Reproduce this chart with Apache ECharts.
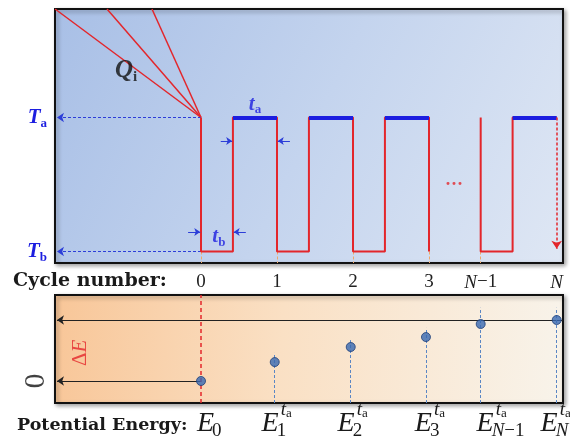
<!DOCTYPE html>
<html>
<head>
<meta charset="utf-8">
<script src="https://cdn.jsdelivr.net/npm/echarts@6/dist/echarts.min.js"></script>
<style>
html,body{margin:0;padding:0;background:#fff;}
#c{width:570px;height:443px;}
</style>
</head>
<body>
<div id="c"></div>
<script>
// ---- data ----
const cycleTicks = [0, 1, 2, 3, 3.68, 4.68];
const cycleLabels = ['0', '1', '2', '3', 'N−1', 'N'];
// temperature levels: Tb = 0, Ta = 1
const levelLabels = ['b', 'a'];
const waveA = [[0,1],[0,0],[0.42,0],[0.42,1],[1,1],[1,0],[1.42,0],[1.42,1],[2,1],[2,0],[2.42,0],[2.42,1],[3,1],[3,0]];
const waveB = [[3.68,1],[3.68,0],[4.1,0],[4.1,1],[4.68,1]];
const holdStart = [0.42, 1.42, 2.42, 4.1];
const holdEnd = [1, 2, 3, 4.68];
const quenchTopX = [-1.92, -1.237, -0.645];
const energyX = [0, 0.97, 1.97, 2.96, 3.68, 4.68];
const energyY = [0, 0.31, 0.557, 0.72, 0.934, 1.0];
const guideTop = [null, 0.46, 0.67, 0.87, 1.2, 1.2];
const energySub = ['0', '1', '2', '3', 'N−1', 'N'];
const energySup = [false, true, true, true, true, true];

// ---- layout constants ----
const X_MIN = -1.921, X_MAX = 4.763;
const TY_MIN = -0.086, TY_MAX = 1.81;
const BY_MIN = -0.361, BY_MAX = 1.41;
const ARROW_END = -1.895;
const labelShift = [13, 4, 4, 6, 13, 1];

const RED = '#e3262b', BLUE = '#1c1ee0', DBLUE = '#2c3ed8';
const SERIF = '"Liberation Serif", "Times New Roman", serif';

const chart = echarts.init(document.getElementById('c'));

function seg(a, b) { return { coords: [a, b] }; }

const option = {
  animation: false,
  grid: [
    { left: 55, right: 7, top: 9, height: 254, show: true, borderColor: '#111', borderWidth: 2,
      shadowBlur: 4, shadowColor: 'rgba(0,0,0,0.35)', shadowOffsetX: 2, shadowOffsetY: 2,
      backgroundColor: { type: 'linear', x: 0, y: 0, x2: 1, y2: 1,
        colorStops: [{ offset: 0, color: '#a8bfe6' }, { offset: 0.5, color: '#c4d4ee' }, { offset: 1, color: '#dfe7f4' }] } },
    { left: 55, right: 7, top: 295, height: 108, show: true, borderColor: '#111', borderWidth: 2,
      shadowBlur: 4, shadowColor: 'rgba(0,0,0,0.35)', shadowOffsetX: 2, shadowOffsetY: 2,
      backgroundColor: { type: 'linear', x: 0, y: 0, x2: 1, y2: 0.3,
        colorStops: [{ offset: 0, color: '#f8c698' }, { offset: 0.45, color: '#fae0c4' }, { offset: 1, color: '#f8f3ea' }] } }
  ],
  xAxis: [
    { type: 'value', gridIndex: 0, min: X_MIN, max: X_MAX,
      axisLine: { show: false }, axisTick: { show: false }, splitLine: { show: false },
      axisLabel: { show: true, customValues: cycleTicks, margin: 10,
        formatter: function (v) {
          let i = cycleTicks.findIndex(t => Math.abs(t - v) < 1e-6);
          if (i < 0) return '';
          let s = cycleLabels[i];
          if (s.indexOf('N') === 0) return '{i|N}' + (s.length > 1 ? '{r|' + s.slice(1) + '}' : '');
          return '{r|' + s + '}';
        },
        rich: {
          r: { fontFamily: SERIF, fontSize: 19, color: '#222' },
          i: { fontFamily: SERIF, fontSize: 19, fontStyle: 'italic', color: '#222' }
        } } },
    { type: 'value', gridIndex: 1, min: X_MIN, max: X_MAX,
      axisLine: { show: false }, axisTick: { show: false }, splitLine: { show: false }, axisLabel: { show: false } }
  ],
  yAxis: [
    { type: 'value', gridIndex: 0, min: TY_MIN, max: TY_MAX,
      axisLine: { show: false }, axisTick: { show: false }, splitLine: { show: false },
      axisLabel: { show: true, customValues: [0, 1], margin: 8,
        formatter: function (v) { return '{T|T}{s|' + levelLabels[Math.round(v)] + '}'; },
        rich: {
          T: { fontFamily: SERIF, fontSize: 21, fontWeight: 'bold', fontStyle: 'italic', color: BLUE, lineHeight: 26, verticalAlign: 'middle' },
          s: { fontFamily: SERIF, fontSize: 13, fontWeight: 'bold', color: BLUE, lineHeight: 12, verticalAlign: 'bottom' }
        } } },
    { type: 'value', gridIndex: 1, min: BY_MIN, max: BY_MAX,
      axisLine: { show: false }, axisTick: { show: false }, splitLine: { show: false },
      axisLabel: { show: false } }
  ],
  series: [
    // quench lines Q_i
    { type: 'lines', coordinateSystem: 'cartesian2d', xAxisIndex: 0, yAxisIndex: 0, z: 3,
      lineStyle: { color: RED, width: 1.5, opacity: 1 }, symbol: 'none',
      data: quenchTopX.map(x => seg([0, 1], [x, TY_MAX])) },
    // level reference arrows Ta / Tb
    { type: 'lines', coordinateSystem: 'cartesian2d', xAxisIndex: 0, yAxisIndex: 0, z: 3,
      lineStyle: { color: DBLUE, width: 1, type: [3, 2], opacity: 1 }, symbol: ['none', 'arrow'], symbolSize: 7,
      data: [seg([0, 1], [ARROW_END, 1]), seg([0, 0], [ARROW_END, 0])] },
    // small dashed ticks under panel
    { type: 'lines', coordinateSystem: 'cartesian2d', xAxisIndex: 0, yAxisIndex: 0, z: 2,
      lineStyle: { color: '#f0a868', width: 1, type: [3, 2], opacity: 1 }, symbol: 'none',
      data: cycleTicks.slice(0, 5).map(x => seg([x, 0], [x, TY_MIN])) },
    // temperature protocol
    { type: 'line', xAxisIndex: 0, yAxisIndex: 0, z: 4, symbol: 'none', connectNulls: false,
      lineStyle: { color: RED, width: 2 }, data: waveA.concat(['-'], waveB) },
    // holding at Ta (blue)
    { type: 'lines', coordinateSystem: 'cartesian2d', xAxisIndex: 0, yAxisIndex: 0, z: 5,
      lineStyle: { color: BLUE, width: 4, opacity: 1 }, symbol: 'none',
      data: holdStart.map((s, i) => seg([s, 1], [holdEnd[i], 1])) },
    // final quench arrow
    { type: 'lines', coordinateSystem: 'cartesian2d', xAxisIndex: 0, yAxisIndex: 0, z: 5,
      lineStyle: { color: RED, width: 1.5, type: [3, 2], opacity: 1 }, symbol: ['none', 'arrow'], symbolSize: 8,
      data: [seg([holdEnd[3], 1], [holdEnd[3], 0.02])] },
    // ta / tb small arrows
    { type: 'lines', coordinateSystem: 'cartesian2d', xAxisIndex: 0, yAxisIndex: 0, z: 5,
      lineStyle: { color: DBLUE, width: 1, opacity: 1 }, symbol: ['none', 'arrow'], symbolSize: 6,
      data: [seg([0.26, 0.825], [0.41, 0.825]), seg([1.17, 0.825], [1.01, 0.825]),
             seg([-0.17, 0.146], [-0.01, 0.146]), seg([0.59, 0.146], [0.43, 0.146])] },
    // annotations top
    { type: 'scatter', xAxisIndex: 0, yAxisIndex: 0, symbolSize: 0, z: 6, silent: true,
      label: { show: true, position: 'inside', formatter: p => p.data[2],
        rich: {
          Q: { fontFamily: SERIF, fontSize: 25, fontWeight: 'bold', fontStyle: 'italic', color: '#111', lineHeight: 28, verticalAlign: 'middle' },
          i: { fontFamily: SERIF, fontSize: 15, fontWeight: 'bold', color: '#111', lineHeight: 12, verticalAlign: 'bottom' },
          t: { fontFamily: SERIF, fontSize: 21, fontWeight: 'bold', fontStyle: 'italic', color: BLUE, lineHeight: 24, verticalAlign: 'middle' },
          a: { fontFamily: SERIF, fontSize: 13, fontWeight: 'bold', color: BLUE, lineHeight: 12, verticalAlign: 'bottom' },
          d: { fontFamily: SERIF, fontSize: 18, fontWeight: 'bold', color: RED }
        } },
      data: [[-0.987, 1.35, '{Q|Q}{i|i}'], [0.71, 1.10, '{t|t}{a|a}'], [0.235, 0.108, '{t|t}{a|b}'], [3.33, 0.49, '{d|···}']] },
    // bottom panel: reference arrows
    { type: 'lines', coordinateSystem: 'cartesian2d', xAxisIndex: 1, yAxisIndex: 1, z: 3,
      lineStyle: { color: '#222', width: 1.2, opacity: 1 }, symbol: ['none', 'arrow'], symbolSize: 7,
      data: [seg([X_MAX, energyY[5]], [ARROW_END, energyY[5]]), seg([0, 0], [ARROW_END, 0])] },
    // red dashed at cycle 0
    { type: 'lines', coordinateSystem: 'cartesian2d', xAxisIndex: 1, yAxisIndex: 1, z: 3,
      lineStyle: { color: RED, width: 1.5, type: [4, 3], opacity: 1 }, symbol: 'none',
      data: [seg([0, BY_MIN], [0, BY_MAX])] },
    // blue dashed guides
    { type: 'lines', coordinateSystem: 'cartesian2d', xAxisIndex: 1, yAxisIndex: 1, z: 3,
      lineStyle: { color: '#5a86c4', width: 1, type: [3, 2], opacity: 1 }, symbol: 'none',
      data: energyX.map((x, i) => guideTop[i] === null ? null : seg([x, BY_MIN], [x, guideTop[i]])).filter(Boolean) },
    // energy points
    { type: 'scatter', xAxisIndex: 1, yAxisIndex: 1, z: 6, symbolSize: 9,
      itemStyle: { color: '#3768b2', borderColor: '#1e3f78', borderWidth: 1 },
      data: energyX.map((x, i) => [x, energyY[i]]) },
    // bottom annotations
    { type: 'scatter', xAxisIndex: 1, yAxisIndex: 1, symbolSize: 0, z: 6, silent: true, clip: false,
      label: { show: true, position: 'inside', rotate: 90, formatter: p => p.data[2],
        rich: {
          d: { fontFamily: SERIF, fontSize: 21, color: RED },
          e: { fontFamily: SERIF, fontSize: 21, fontStyle: 'italic', color: RED },
          z: { fontFamily: SERIF, fontSize: 30, color: '#111' }
        } },
      data: [[-1.59, 0.46, '{d|Δ}{e|E}'], [-2.17, 0, '{z|0}']] },
    // energy labels
    { type: 'custom', xAxisIndex: 1, yAxisIndex: 1, z: 6, silent: true,
      data: energyX.map((x, i) => [x, i]),
      renderItem: function (params, api) {
        const i = api.value(1);
        const p = api.coord([api.value(0), 0]);
        const ex = p[0] + labelShift[i];
        const children = [
          { type: 'text', x: ex, y: 424, style: { text: 'E', fontFamily: SERIF, fontStyle: 'italic', fontSize: 28, fill: '#1a1a1a', align: 'right', verticalAlign: 'middle' } }
        ];
        const sub = energySub[i];
        children.push({ type: 'text', x: ex - 2, y: 431, style: {
          text: sub.indexOf('N') === 0 ? '{n|N}{r|' + sub.slice(1) + '}' : '{r|' + sub + '}',
          align: 'left', verticalAlign: 'middle',
          rich: { n: { fontFamily: SERIF, fontStyle: 'italic', fontSize: 19, fill: '#1a1a1a' },
                  r: { fontFamily: SERIF, fontSize: 19, fill: '#1a1a1a' } } } });
        if (energySup[i]) {
          children.push({ type: 'text', x: ex + 2, y: 410, style: {
            text: '{t|t}{a|a}', align: 'left', verticalAlign: 'middle',
            rich: { t: { fontFamily: SERIF, fontStyle: 'italic', fontSize: 19, fill: '#1a1a1a', lineHeight: 20, verticalAlign: 'middle' },
                    a: { fontFamily: SERIF, fontSize: 13, fill: '#1a1a1a', lineHeight: 12, verticalAlign: 'bottom' } } } });
        }
        return { type: 'group', children: children };
      } }
  ],
  graphic: [
    { type: 'text', x: 13, y: 281, style: { text: 'Cycle number:', font: 'bold 19px "DejaVu Serif"', fill: '#1a1a1a', align: 'left', verticalAlign: 'middle' } },
    { type: 'text', x: 17, y: 425, style: { text: 'Potential Energy:', font: 'bold 17.5px "DejaVu Serif"', fill: '#1a1a1a', align: 'left', verticalAlign: 'middle' } }
  ]
};
chart.setOption(option);
</script>
</body>
</html>
